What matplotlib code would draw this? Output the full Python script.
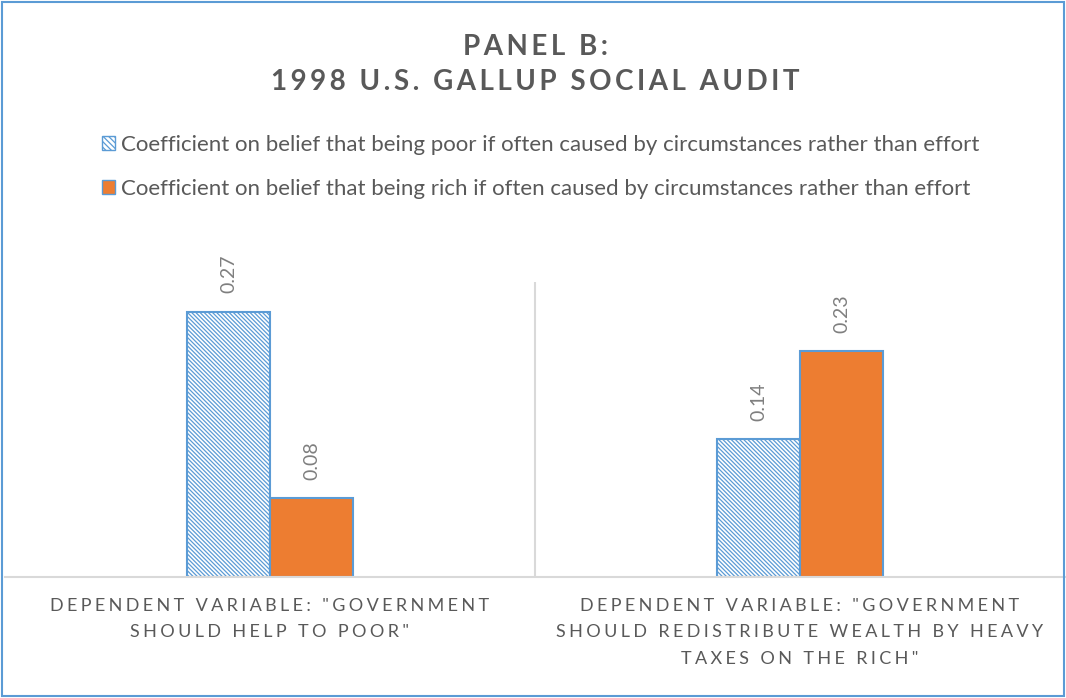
import matplotlib
matplotlib.use("Agg")
import matplotlib.pyplot as plt
from matplotlib.patches import Patch, Rectangle

plt.rcParams['font.family'] = ['Lato', 'DejaVu Sans']
plt.rcParams['hatch.linewidth'] = 0.9
plt.rcParams['hatch.color'] = '#5B9BD5'

title_lines = ["PANEL B:", "1998 U.S. GALLUP SOCIAL AUDIT"]
categories = ['DEPENDENT VARIABLE: "GOVERNMENT\nSHOULD HELP TO POOR"',
              'DEPENDENT VARIABLE: "GOVERNMENT\nSHOULD REDISTRIBUTE WEALTH BY HEAVY\nTAXES ON THE RICH"']
series_names = ["Coefficient on belief that being poor if often caused by circumstances rather than effort",
                "Coefficient on belief that being rich if often caused by circumstances rather than effort"]
poor_coef = [0.27, 0.14]
rich_coef = [0.08, 0.23]

BLUE = '#5B9BD5'
ORANGE = '#ED7D31'
GRAY_TXT = '#595959'
GRID = '#D9D9D9'


def spaced(s, sep='\u2009'):
    # fake letter spacing with thin spaces, keeps line breaks
    return '\n'.join(sep.join(line) for line in s.split('\n'))


W, H = 1066, 698
fig = plt.figure(figsize=(W / 100, H / 100), dpi=100)

ax = fig.add_axes([5 / W, 121 / H, 1060 / W, 295 / H])
x = list(range(len(categories)))
bw = 0.157

bars1 = ax.bar(x, poor_coef, width=-bw, align='edge', color='white',
               edgecolor=BLUE, hatch='\\' * 8, linewidth=1.5)
bars2 = ax.bar(x, rich_coef, width=bw, align='edge', color=ORANGE,
               edgecolor=BLUE, linewidth=1.5)

for bars, vals in [(bars1, poor_coef), (bars2, rich_coef)]:
    for b, v in zip(bars, vals):
        ax.annotate(f"{v:.2f}", (b.get_x() + b.get_width() / 2, v),
                    xytext=(0, 13), textcoords='offset points',
                    rotation=90, ha='center', va='bottom',
                    fontsize=14, color='#7F7F7F')

ax.set_xlim(-0.5, len(categories) - 0.5)
ax.set_ylim(0, 0.3)
ax.set_xticks([])
ax.set_yticks([])
for side in ['top', 'left', 'right']:
    ax.spines[side].set_visible(False)
ax.spines['bottom'].set_color(GRID)
ax.spines['bottom'].set_linewidth(1.5)
ax.axvline(0.5, color=GRID, lw=1.5)

for i, cat in enumerate(categories):
    ax.annotate(spaced(cat, '\u2009\u200a'), (i, 0), xytext=(0, -15), textcoords='offset points',
                ha='center', va='top', multialignment='center',
                fontsize=13, color=GRAY_TXT, linespacing=1.8)

fig.text(0.502, 1 - 47 / H, spaced(title_lines[0]), ha='center', va='center',
         fontsize=20, weight='bold', color=GRAY_TXT)
fig.text(0.502, 1 - 82 / H, spaced(title_lines[1]), ha='center', va='center',
         fontsize=20, weight='bold', color=GRAY_TXT)

handles = [Patch(facecolor='white', edgecolor=BLUE, hatch='\\' * 6, linewidth=1),
           Patch(facecolor=ORANGE, edgecolor=BLUE, linewidth=1)]
fig.legend(handles, series_names, loc='upper left', bbox_to_anchor=(93 / W, 1 - 126 / H),
           frameon=False, fontsize=16, labelcolor=GRAY_TXT, handlelength=0.6,
           handleheight=0.6, handletextpad=0.25, labelspacing=1.08, borderaxespad=0)

fig.patches.append(Rectangle((2 / W, 2 / H), 1 - 4 / W, 1 - 4 / H, transform=fig.transFigure,
                             fill=False, edgecolor=BLUE, linewidth=1.5))

fig.savefig('out.png', dpi=100)
